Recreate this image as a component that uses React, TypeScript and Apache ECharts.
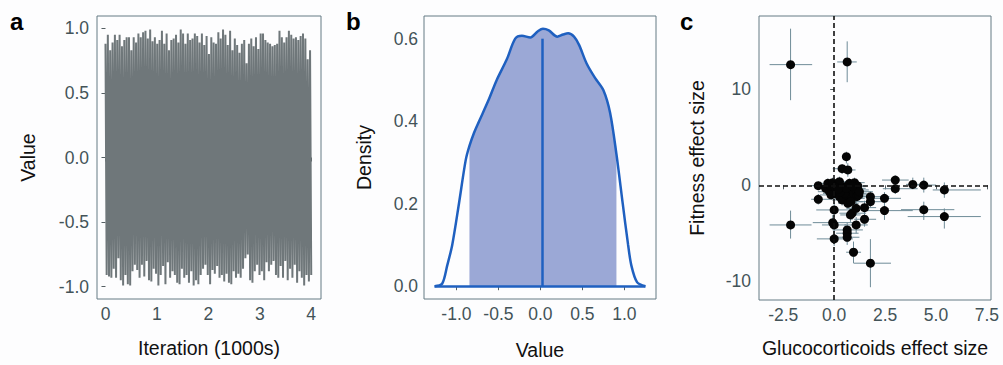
import React, { useEffect, useRef } from "react";
import * as echarts from "echarts";

// ---------- Panel a: MCMC trace (read envelope peaks / troughs) ----------
const traceHigh = [
  0.88, 0.95, 0.83, 0.89, 0.95, 0.91, 0.95, 0.86, 0.91, 0.93, 0.93, 0.83, 0.93, 0.89, 0.96,
  0.93, 0.97, 0.98, 0.92, 0.99, 0.9, 0.93, 0.88, 0.91, 0.98, 0.88, 0.96, 0.83, 0.91, 0.92,
  0.95, 0.89, 0.99, 0.96, 0.88, 0.96, 0.91, 0.92, 0.96, 0.94, 0.89, 0.96,
  0.87, 0.94, 0.8, 0.93, 0.89, 0.88, 0.97, 0.92, 0.99, 0.95, 0.87, 0.98, 0.83, 0.92, 0.87,
  0.81, 0.88, 0.91, 0.73, 0.88, 0.92, 0.86, 0.93, 0.84, 0.96, 0.96, 0.91, 0.89, 0.88, 0.86,
  0.87, 0.88, 0.98, 0.93, 0.89, 0.93, 0.98, 0.95, 0.92, 0.93, 0.91, 0.94, 0.96, 0.92, 0.76, 0.83,
];
const traceLow = [
  -0.91, -0.92, -0.93, -0.86, -0.93, -0.78, -0.95, -0.99, -0.91, -0.98, -0.99, -0.88, -0.83,
  -0.87, -0.93, -0.83, -0.92, -0.8, -0.95, -0.96, -0.86, -0.9, -0.99, -0.91, -0.84, -0.98,
  -0.81, -0.93, -0.88, -0.91, -0.97, -0.98, -0.86, -0.93, -0.91, -0.97, -0.88, -0.99, -0.95,
  -0.98, -0.91, -0.86,
  -0.83, -0.91, -0.98, -0.87, -0.9, -0.84, -0.93, -0.91, -0.96, -0.9, -0.97, -0.98, -0.88,
  -0.93, -0.9, -0.93, -0.86, -0.78, -0.75, -0.95, -0.97, -0.88, -0.83, -0.91, -0.88, -0.95,
  -0.81, -0.88, -0.83, -0.8, -0.91, -0.93, -0.84, -0.93, -0.8, -0.95, -0.86, -0.93, -0.83,
  -0.97, -0.88, -0.93, -0.99, -0.91, -0.96, -0.91,
];
const traceIterMax = 4; // thousands of iterations
const traceXTicks = [0, 1, 2, 3, 4];
const traceYTicks = [-1, -0.5, 0, 0.5, 1];

// ---------- Panel b: posterior density ----------
const densityX = [
  -1.26, -1.17, -1.11, -1.05, -0.97, -0.89, -0.845, -0.79, -0.73, -0.62, -0.52, -0.4, -0.3,
  -0.22, -0.12, -0.03, 0.03, 0.1, 0.2, 0.27, 0.33, 0.4, 0.46, 0.55, 0.65, 0.75, 0.83, 0.905,
  0.98, 1.044, 1.083, 1.15, 1.25,
];
const densityY = [
  0, 0.006, 0.05, 0.1, 0.2, 0.305, 0.34, 0.372, 0.4, 0.45, 0.5, 0.55, 0.6, 0.607, 0.603,
  0.618, 0.624, 0.62, 0.605, 0.61, 0.613, 0.605, 0.585, 0.54, 0.505, 0.475, 0.42, 0.32, 0.2,
  0.1, 0.05, 0.01, 0,
];
const intervalLow = -0.845;
const intervalHigh = 0.905;
const meanValue = 0.024;
const meanDensity = 0.6;
const densityXTicks = [-1, -0.5, 0, 0.5, 1];
const densityYTicks = [0, 0.2, 0.4, 0.6];

// ---------- Panel c: effect sizes with error bars ----------
const gcEffect = [
  -2.14, 0.64, -2.14, 1.78, 0.95, 0.6, 0.39, 0.67, 3.0, 3.0, 3.86, 4.4, 5.41, 4.4, 5.41, 2.47,
  2.47, 1.78, 1.78, 1.49, 1.49, 1.08, 0.88, 0.8, 1.08, 0.0, -0.07, 0.0, 0.0, 0.64, 0.64, 0.64,
  -0.78, -0.78, -0.42, -0.31, -0.23, -0.15, -0.07, 0.02, 0.1, 0.18, 0.26, 0.34, 0.39, 0.46,
  0.52, 0.59, 0.67, 0.75, 0.78, 0.88, 0.95, 1.0, 1.08, 1.11, 1.16, 1.21, 1.24, 0.67, 0.83,
  0.51, 0.26, -0.15, 0.05, 0.3, 0.6, 0.9, 0.2,
];
const fitEffect = [
  12.56, 12.84, -4.12, -8.1, -6.96, 2.98, 1.73, 1.6, 0.55, -0.35, 0.1, 0.03, -0.48, -2.53,
  -3.25, -1.35, -2.63, -1.18, -1.7, -2.32, -3.53, -2.39, -2.9, -3.08, -4.12, -2.56, -3.88,
  -4.12, -5.57, -4.64, -4.98, -5.4, -0.03, -1.45, -0.31, 0.21, -0.66, -0.14, 0.28, -0.83,
  -0.48, 0.03, -1.18, -0.31, -1.52, -0.66, -0.14, -1.0, -0.48, 0.21, -1.35, -0.31, -0.83,
  0.28, -0.48, -1.18, -0.07, -1.0, -0.66, -1.87, -1.7, -0.83, 0.38, -1.0, -0.2, -0.7, -0.3,
  -0.1, -0.4,
];
const gcLow = [
  -3.17, 0.15, -3.17, 0.96, 0.59, 0.42, -0.07, 0.3, 2.35, 2.39, 3.53, 3.78, 4.84, 3.28, 3.61,
  1.8, 1.41, 1.24, 1.2, 1.08, 0.98, 0.6, 0.26, 0.3, 0.5, -0.88, -1.05, -0.6, -0.85, -0.07,
  0.1, 0.0, -1.1, -1.13, -0.95, -0.7, -0.8, -0.6, -0.5, -0.55, -0.4, -0.3, -0.3, -0.2, -0.1,
  -0.05, 0.0, 0.05, 0.1, 0.2, 0.2, 0.3, 0.4, 0.5, 0.55, 0.6, 0.7, 0.7, 0.8, 0.2, 0.3, -0.1,
  -0.2, -0.7, -0.45, -0.2, 0.1, 0.4, -0.3,
];
const gcHigh = [
  -1.08, 1.11, -1.11, 2.79, 1.32, 0.78, 0.85, 1.05, 3.66, 4.1, 4.35, 5.0, 7.2, 5.9, 7.2,
  3.28, 3.86, 2.71, 2.4, 2.06, 2.06, 1.6, 1.57, 1.3, 1.65, 0.9, 1.08, 0.6, 0.92, 1.41, 1.2,
  1.24, -0.4, -0.2, 0.1, 0.15, 0.4, 0.3, 0.4, 0.65, 0.7, 0.7, 0.9, 0.95, 0.95, 1.1, 1.2,
  1.25, 1.4, 1.3, 1.5, 1.55, 1.6, 1.5, 1.7, 1.75, 1.6, 1.8, 1.9, 1.2, 1.4, 1.1, 0.7, 0.4,
  0.55, 0.8, 1.1, 1.4, 0.7,
];
const fitLow = [
  8.86, 10.73, -5.54, -10.6, -8.1, 2.28, 1.2, 0.9, 0.03, -0.9, -0.4, -0.75, -1.3, -3.6, -4.5,
  -2.0, -3.6, -1.8, -2.3, -3.0, -4.3, -3.1, -3.6, -3.8, -5.0, -3.3, -4.6, -4.9, -6.3, -5.4,
  -5.7, -6.2, -0.5, -2.0, -0.8, -0.3, -1.2, -0.6, -0.2, -1.4, -1.0, -0.5, -1.8, -0.8, -2.1,
  -1.2, -0.6, -1.5, -1.0, -0.3, -1.9, -0.8, -1.3, -0.2, -1.0, -1.7, -0.5, -1.5, -1.1, -2.4,
  -2.2, -1.4, -0.1, -1.5, -0.7, -1.2, -0.8, -0.6, -0.9,
];
const fitHigh = [
  16.3, 14.98, -2.63, -5.6, -5.85, 3.5, 2.2, 2.3, 1.0, 0.15, 0.8, 0.8, 0.3, -1.7, -2.4, -0.7,
  -1.7, -0.6, -1.1, -1.6, -2.8, -1.7, -2.2, -2.4, -3.3, -1.8, -3.1, -3.4, -4.8, -3.9, -4.3,
  -4.7, 0.4, -0.9, 0.2, 0.7, -0.1, 0.4, 0.8, -0.3, 0.1, 0.6, -0.6, 0.2, -1.0, -0.1, 0.3,
  -0.5, 0.1, 0.7, -0.8, 0.2, -0.3, 0.8, 0.1, -0.6, 0.4, -0.5, -0.2, -1.3, -1.2, -0.3, 0.9,
  -0.5, 0.3, -0.2, 0.2, 0.4, 0.1,
];
const gcTicks = [-2.5, 0, 2.5, 5, 7.5];
const fitTicks = [-10, 0, 10];

const FONT = "Liberation Sans, Arial, Helvetica, sans-serif";
const TICK_COLOR = "#435358";
const FRAME_COLOR = "#647a84";

function axis(
  gridIndex: number,
  min: number,
  max: number,
  ticks: number[],
  fmt: (v: number) => string,
  name: string,
  nameGap: number,
  margin: number
) {
  return {
    type: "value",
    gridIndex,
    min,
    max,
    name,
    nameLocation: "middle",
    nameGap,
    nameTextStyle: { fontFamily: FONT, fontSize: 19.5, color: "#111" },
    axisLine: { show: false },
    splitLine: { show: false },
    axisTick: {
      show: true,
      customValues: ticks,
      length: 4,
      lineStyle: { color: "#555f63", width: 1 },
    },
    axisLabel: {
      customValues: ticks,
      formatter: (v: number) => fmt(v),
      color: TICK_COLOR,
      fontFamily: FONT,
      fontSize: 17.5,
      margin,
    },
  };
}

export default function App() {
  const ref = useRef<HTMLDivElement>(null);

  useEffect(() => {
    if (!ref.current) return;
    const chart = echarts.init(ref.current, null, { renderer: "svg" });

    // alternate peaks and troughs along the iteration axis
    const n = Math.min(traceHigh.length, traceLow.length);
    const step = traceIterMax / (n - 0.5);
    const tracePts: number[][] = [];
    for (let i = 0; i < n; i++) {
      tracePts.push([i * step, traceHigh[i]]);
      tracePts.push([(i + 0.5) * step, traceLow[i]]);
    }

    const curve = densityX.map((x, i) => [x, densityY[i]]);
    const fillPts = curve.filter((p) => p[0] >= intervalLow && p[0] <= intervalHigh);

    const effects = gcEffect.map((x, i) => [
      x,
      fitEffect[i],
      gcLow[i],
      gcHigh[i],
      fitLow[i],
      fitHigh[i],
    ]);

    const f1 = (v: number) => v.toFixed(1);
    const f0 = (v: number) => String(v);

    const option: any = {
      animation: false,
      backgroundColor: "#fdfdfe",
      grid: [
        { left: 97, top: 16, width: 224, height: 283, show: true, borderColor: FRAME_COLOR, borderWidth: 1, backgroundColor: "transparent" },
        { left: 424, top: 16, width: 232, height: 283, show: true, borderColor: FRAME_COLOR, borderWidth: 1, backgroundColor: "transparent" },
        { left: 759, top: 16, width: 232, height: 284, show: true, borderColor: FRAME_COLOR, borderWidth: 1, backgroundColor: "transparent" },
      ],
      xAxis: [
        axis(0, -0.165, 4.19, traceXTicks, f0, "Iteration (1000s)", 39, 6),
        axis(1, -1.386, 1.376, densityXTicks, f1, "Value", 41, 6),
        axis(2, -3.69, 7.7, gcTicks, f1, "Glucocorticoids effect size", 38, 6),
      ],
      yAxis: [
        axis(0, -1.095, 1.095, traceYTicks, f1, "Value", 59, 8),
        axis(1, -0.031, 0.655, densityYTicks, f1, "Density", 50, 6),
        axis(2, -11.93, 17.62, fitTicks, f0, "Fitness effect size", 52, 8),
      ],
      graphic: [
        { type: "text", left: 10, top: 9, style: { text: "a", font: `bold 24px ${FONT}`, fill: "#000" } },
        { type: "text", left: 346, top: 9, style: { text: "b", font: `bold 24px ${FONT}`, fill: "#000" } },
        { type: "text", left: 680, top: 9, style: { text: "c", font: `bold 24px ${FONT}`, fill: "#000" } },
      ],
      series: [
        {
          type: "line",
          xAxisIndex: 0,
          yAxisIndex: 0,
          data: tracePts,
          symbol: "none",
          lineStyle: { color: "#6f777a", width: 2 },
          silent: true,
        },
        {
          type: "line",
          xAxisIndex: 1,
          yAxisIndex: 1,
          data: fillPts,
          symbol: "none",
          smooth: 0.3,
          lineStyle: { width: 0 },
          areaStyle: { color: "#9ba8d6", opacity: 1 },
          silent: true,
          z: 1,
        },
        {
          type: "line",
          xAxisIndex: 1,
          yAxisIndex: 1,
          data: curve,
          symbol: "none",
          smooth: 0.3,
          lineStyle: { color: "#1f60c0", width: 2.5 },
          silent: true,
          z: 3,
          markLine: {
            silent: true,
            symbol: "none",
            label: { show: false },
            lineStyle: { color: "#1f60c0", width: 2.5, type: "solid" },
            data: [
              [{ coord: [densityX[0], 0] }, { coord: [densityX[densityX.length - 1], 0] }],
              [{ coord: [meanValue, 0] }, { coord: [meanValue, meanDensity] }],
            ],
          },
        },
        {
          type: "custom",
          xAxisIndex: 2,
          yAxisIndex: 2,
          data: effects,
          encode: { x: 0, y: 1 },
          silent: true,
          z: 2,
          renderItem: (_params: any, api: any) => {
            const x = api.value(0);
            const y = api.value(1);
            const a = api.coord([api.value(2), y]);
            const b = api.coord([api.value(3), y]);
            const c = api.coord([x, api.value(4)]);
            const d = api.coord([x, api.value(5)]);
            const style = { stroke: "#6f8c98", lineWidth: 1 };
            return {
              type: "group",
              children: [
                { type: "line", shape: { x1: a[0], y1: a[1], x2: b[0], y2: b[1] }, style },
                { type: "line", shape: { x1: c[0], y1: c[1], x2: d[0], y2: d[1] }, style },
              ],
            };
          },
        },
        {
          type: "scatter",
          xAxisIndex: 2,
          yAxisIndex: 2,
          data: effects.map((r) => [r[0], r[1]]),
          symbol: "circle",
          symbolSize: 9,
          itemStyle: { color: "#050505", opacity: 1 },
          silent: true,
          z: 4,
          markLine: {
            silent: true,
            symbol: "none",
            label: { show: false },
            lineStyle: { color: "#111", width: 1.6, type: [5, 3] },
            data: [{ xAxis: 0 }, { yAxis: 0 }],
          },
        },
      ],
    };

    chart.setOption(option);
    return () => chart.dispose();
  }, []);

  return (
    <div
      ref={ref}
      style={{ position: "absolute", left: 0, top: 0, width: 1003, height: 365 }}
    />
  );
}
